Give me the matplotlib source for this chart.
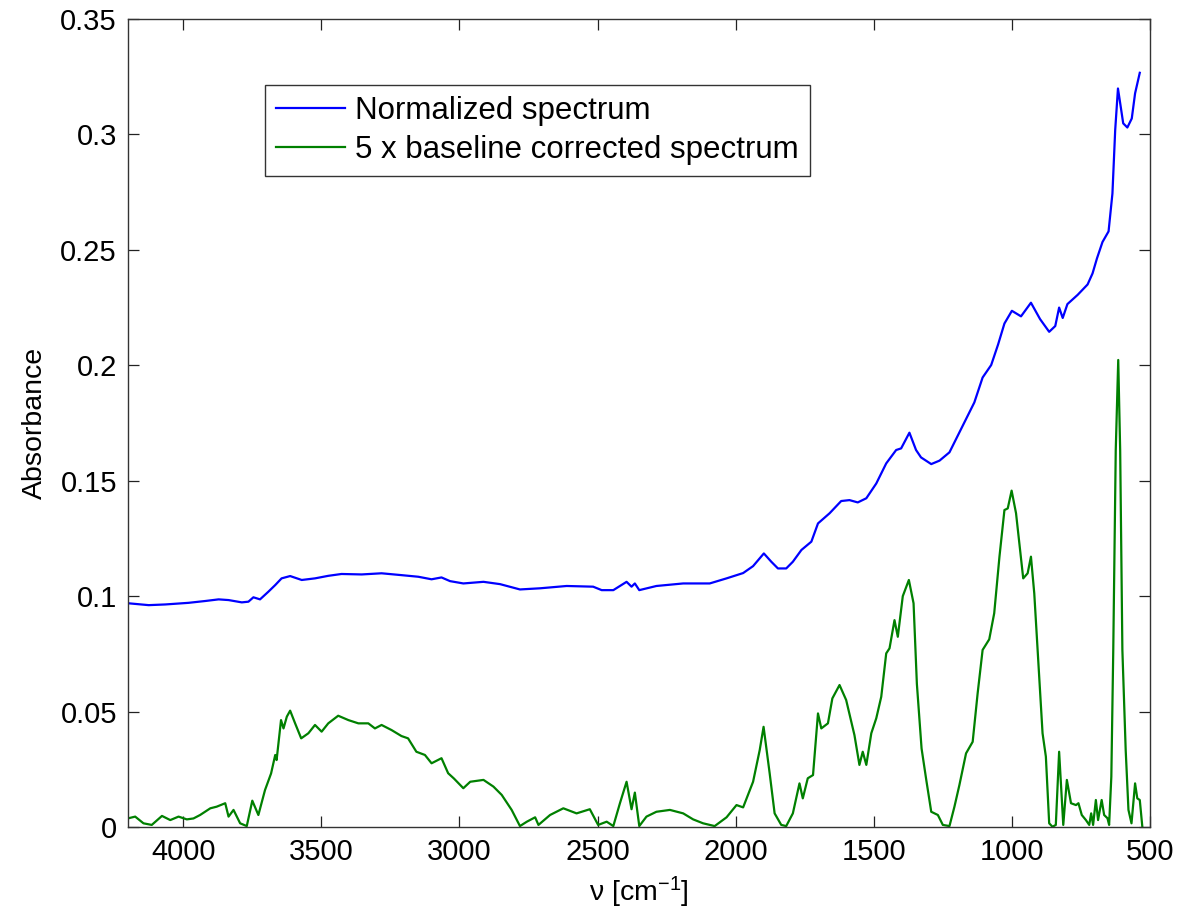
import matplotlib
matplotlib.use("Agg")
import matplotlib.pyplot as plt
import numpy as np

plt.rcParams['font.family'] = ['Liberation Sans', 'DejaVu Sans']
plt.rcParams['mathtext.fontset'] = 'custom'
plt.rcParams['mathtext.rm'] = 'Liberation Sans'
plt.rcParams['mathtext.it'] = 'Liberation Sans'

# Normalized spectrum (blue)
blue_wn = [4198, 4125, 4065, 3981, 3920, 3872, 3836, 3788, 3764, 3746, 3722, 3692, 3667, 3644,
           3613, 3571, 3523, 3475, 3427, 3354, 3282, 3210, 3149, 3101, 3065, 3034, 2986, 2913,
           2853, 2781, 2708, 2612, 2516, 2485, 2443, 2395, 2377, 2365, 2349, 2287, 2190, 2094,
           2033, 1973, 1937, 1898, 1871, 1847, 1817, 1793, 1762, 1726, 1702, 1660, 1618, 1588,
           1558, 1527, 1491, 1455, 1419, 1401, 1371, 1347, 1329, 1292, 1262, 1226, 1196, 1166,
           1136, 1106, 1075, 1050, 1027, 1000, 967, 931, 898, 865, 843, 829, 816, 799, 762, 726,
           708, 692, 672, 650, 636, 626, 616, 605, 597, 582, 566, 554, 537]
blue_abs = [0.0969, 0.0961, 0.0964, 0.0971, 0.0979, 0.0986, 0.0983, 0.0973, 0.0976, 0.0995,
            0.0986, 0.1019, 0.1048, 0.1077, 0.1087, 0.1070, 0.1077, 0.1088, 0.1096, 0.1094,
            0.1099, 0.1091, 0.1084, 0.1073, 0.1081, 0.1065, 0.1055, 0.1062, 0.1052, 0.1029,
            0.1034, 0.1044, 0.1041, 0.1026, 0.1026, 0.1062, 0.1041, 0.1055, 0.1026, 0.1044,
            0.1055, 0.1055, 0.1077, 0.1100, 0.1130, 0.1185, 0.1149, 0.1120, 0.1120, 0.1149,
            0.1200, 0.1236, 0.1315, 0.1359, 0.1412, 0.1416, 0.1406, 0.1424, 0.1488, 0.1575,
            0.1633, 0.1640, 0.1708, 0.1633, 0.1601, 0.1572, 0.1587, 0.1623, 0.1695, 0.1767,
            0.1839, 0.1947, 0.2001, 0.2090, 0.2181, 0.2236, 0.2212, 0.2271, 0.2200, 0.2145,
            0.2170, 0.2250, 0.2205, 0.2265, 0.2305, 0.2350, 0.2398, 0.2463, 0.2534, 0.2580,
            0.2744, 0.3019, 0.3199, 0.3112, 0.3048, 0.3030, 0.3069, 0.3178, 0.3267]

# 5 x baseline corrected spectrum (green)
green_wn = [4198, 4174, 4144, 4114, 4077, 4047, 4017, 3987, 3963, 3939, 3902, 3879, 3848, 3836,
            3818, 3794, 3770, 3750, 3728, 3704, 3682, 3667, 3662, 3646, 3637, 3625, 3613, 3595,
            3573, 3547, 3523, 3499, 3475, 3439, 3402, 3366, 3330, 3306, 3282, 3246, 3210, 3186,
            3156, 3125, 3101, 3065, 3041, 3020, 2986, 2961, 2913, 2877, 2847, 2811, 2781, 2756,
            2726, 2714, 2672, 2624, 2576, 2528, 2498, 2467, 2443, 2419, 2395, 2377, 2365, 2349,
            2323, 2287, 2238, 2190, 2154, 2118, 2076, 2033, 1997, 1973, 1937, 1913, 1899, 1877,
            1859, 1835, 1817, 1793, 1769, 1757, 1739, 1720, 1702, 1690, 1666, 1650, 1624, 1600,
            1570, 1552, 1540, 1527, 1509, 1491, 1473, 1455, 1443, 1425, 1413, 1395, 1373, 1356,
            1344, 1327, 1310, 1292, 1268, 1250, 1226, 1208, 1190, 1166, 1142, 1124, 1106, 1082,
            1064, 1045, 1027, 1015, 1001, 985, 973, 959, 943, 931, 919, 907, 889, 877, 865, 853,
            841, 829, 814, 801, 786, 768, 759, 747, 732, 720, 713, 706, 696, 688, 675, 666, 654,
            648, 640, 633, 624, 615, 608, 600, 588, 578, 567, 554, 546, 537, 528]
green_abs = [0.0038, 0.0045, 0.0016, 0.0009, 0.0048, 0.0030, 0.0045, 0.0033, 0.0037, 0.0052,
             0.0081, 0.0088, 0.0103, 0.0045, 0.0074, 0.0016, 0.0004, 0.0114, 0.0052, 0.0160,
             0.0232, 0.0312, 0.0290, 0.0463, 0.0427, 0.0478, 0.0504, 0.0449, 0.0384, 0.0406,
             0.0442, 0.0413, 0.0449, 0.0482, 0.0463, 0.0449, 0.0449, 0.0427, 0.0442, 0.0420,
             0.0394, 0.0384, 0.0326, 0.0312, 0.0276, 0.0298, 0.0233, 0.0210, 0.0168, 0.0196,
             0.0204, 0.0175, 0.0139, 0.0074, 0.0004, 0.0023, 0.0042, 0.0009, 0.0052, 0.0081,
             0.0059, 0.0077, 0.0009, 0.0023, 0.0004, 0.0103, 0.0196, 0.0077, 0.0149, 0.0004,
             0.0045, 0.0066, 0.0074, 0.0059, 0.0033, 0.0016, 0.0004, 0.0042, 0.0095, 0.0085,
             0.0196, 0.0333, 0.0434, 0.0233, 0.0059, 0.0009, 0.0004, 0.0059, 0.0189, 0.0124,
             0.0211, 0.0225, 0.0492, 0.0427, 0.0449, 0.0557, 0.0615, 0.0550, 0.0398, 0.0269,
             0.0326, 0.0269, 0.0406, 0.0471, 0.0564, 0.0752, 0.0774, 0.0896, 0.0824, 0.1000,
             0.1070, 0.0969, 0.0620, 0.0340, 0.0204, 0.0066, 0.0052, 0.0009, 0.0004, 0.0088,
             0.0182, 0.0319, 0.0369, 0.0579, 0.0767, 0.0813, 0.0926, 0.1171, 0.1373, 0.1380,
             0.1457, 0.1359, 0.1229, 0.1077, 0.1099, 0.1171, 0.1012, 0.0767, 0.0406, 0.0305,
             0.0016, 0.0001, 0.0009, 0.0326, 0.0009, 0.0204, 0.0103, 0.0095, 0.0103, 0.0052,
             0.0030, 0.0009, 0.0059, 0.0009, 0.0117, 0.0030, 0.0117, 0.0052, 0.0038, 0.0009,
             0.0218, 0.0767, 0.1633, 0.2023, 0.1633, 0.0767, 0.0333, 0.0074, 0.0016, 0.0189,
             0.0124, 0.0117, 0.0004]

series_labels = ["Normalized spectrum", "5 x baseline corrected spectrum"]
x_ticks = [4000, 3500, 3000, 2500, 2000, 1500, 1000, 500]
y_ticks = [0, 0.05, 0.1, 0.15, 0.2, 0.25, 0.3, 0.35]
y_ticklabels = ["0", "0.05", "0.1", "0.15", "0.2", "0.25", "0.3", "0.35"]

fig = plt.figure(figsize=(11.96, 9.19), dpi=100)
ax = fig.add_axes([128/1196, 1-827/919, (1150-128)/1196, (827-19)/919])

ax.plot(blue_wn, blue_abs, color=(0, 0, 1), lw=1.6, label=series_labels[0])
ax.plot(green_wn, green_abs, color=(0, 0.5, 0), lw=1.6, label=series_labels[1])

ax.set_xlim(4200, 500)
ax.set_ylim(0, 0.35)
ax.set_xticks(x_ticks)
ax.set_xticklabels([str(t) for t in x_ticks])
ax.set_yticks(y_ticks)
ax.set_yticklabels(y_ticklabels)

ax.tick_params(direction='in', length=8, width=0.9, top=True, right=True,
               labelsize=21, pad=8, colors='#222222', labelcolor='black')
for s in ax.spines.values():
    s.set_linewidth(1.0)
    s.set_color('#333333')

ax.set_ylabel("Absorbance", fontsize=20.5, labelpad=9)
ax.set_xlabel(r"ν [cm$^{-1}$]", fontsize=20.5, labelpad=6)

leg = ax.legend(loc='upper left', bbox_to_anchor=(265/1196, 1-85/919),
                bbox_transform=fig.transFigure, borderaxespad=0, fontsize=22.5,
                handlelength=2.2, handletextpad=0.33, labelspacing=0.3,
                borderpad=0.35, fancybox=False, framealpha=1, edgecolor='#333333')
leg.get_frame().set_linewidth(1.0)

fig.savefig("out.png", dpi=100)
